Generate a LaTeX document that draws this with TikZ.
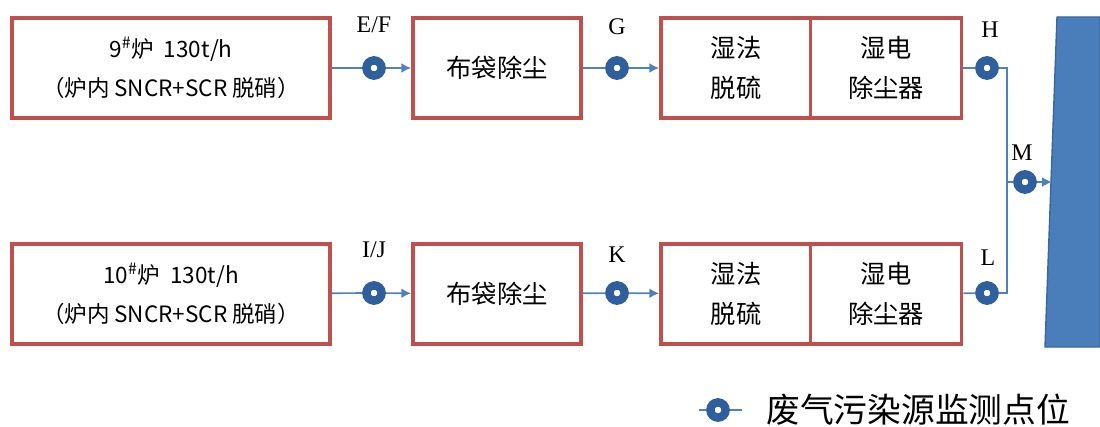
\documentclass[tikz,border=0pt]{standalone}
\usepackage{fontspec}
\setmainfont{Liberation Serif}
\newfontfamily\cjk{Noto Sans CJK SC}
\usepackage{tikz}
\usetikzlibrary{arrows.meta}
\usetikzlibrary{positioning}
\definecolor{boxred}{HTML}{C0504D}
\definecolor{mondark}{HTML}{2F5F9C}
\definecolor{pipeblue}{HTML}{4F81BD}
\definecolor{stackblue}{HTML}{4A7EBB}
\definecolor{stackedge}{HTML}{3A679E}
\tikzset{>=latex}
\tikzstyle{box} = [rectangle, draw=boxred, line width=2.6pt, fill=white, align=center, minimum height=2.5cm, inner sep=0, font=\cjk\fontsize{18}{28}\selectfont]
\tikzstyle{mon} = [circle, draw=mondark, line width=6pt, fill=white, minimum size=0.38cm, inner sep=0]
\tikzstyle{pipe} = [draw=pipeblue, line width=1.2pt]
\tikzstyle{flow} = [pipe, -{Latex[length=7pt, width=7pt]}]
\tikzstyle{tag} = [draw=none, inner sep=0, font=\fontsize{17}{17}\selectfont]

\begin{document}
\begin{tikzpicture}[x=0.025cm, y=-0.025cm]
\useasboundingbox (0,0) rectangle (1100,427);
% stack
\filldraw [fill=stackblue, draw=stackedge, line width=1pt] (1057,17) -- (1100,17) -- (1100,347) -- (1045,347) -- cycle;
\coordinate (stack) at (1052,182);
% line 9
\node [box, minimum width=7.95cm, font=\cjk\fontsize{16}{28}\selectfont] (boiler9) at (171,68) {9\textsuperscript{\#}炉\ \ 130t/h\\（炉内 SNCR+SCR 脱硝）};
\node [box, minimum width=4.2cm] (bag9) at (497,68) {布袋除尘};
\node [box, minimum width=3.75cm] (fgd9) at (736,68) {湿法\\脱硫};
\node [box, minimum width=3.78cm] (esp9) at (886,68) {湿电\\除尘器};
\node [mon] (ef) at (374,68) {};
\node [mon] (g) at (617,68) {};
\node [mon] (h) at (987,68) {};
\node [tag] at (374,25) {E/F};
\node [tag] at (617,27) {G};
\node [tag] at (990,30) {H};
% line 10
\node [box, minimum width=7.95cm, font=\cjk\fontsize{16}{28}\selectfont] (boiler10) at (171,294) {10\textsuperscript{\#}炉\ \ 130t/h\\（炉内 SNCR+SCR 脱硝）};
\node [box, minimum width=4.2cm] (bag10) at (497,294) {布袋除尘};
\node [box, minimum width=3.75cm] (fgd10) at (736,294) {湿法\\脱硫};
\node [box, minimum width=3.78cm] (esp10) at (886,294) {湿电\\除尘器};
\node [mon] (ij) at (374,293) {};
\node [mon] (k) at (617,293) {};
\node [mon] (l) at (987,293) {};
\node [tag] at (374,250) {I/J};
\node [tag] at (617,255) {K};
\node [tag] at (988,258) {L};
% merge
\coordinate (jh) at (1007,68);
\coordinate (jl) at (1007,293);
\coordinate (jm) at (1007,182);
\node [mon] (m) at (1025,182) {};
\node [tag] at (1022,153) {M};
\draw [pipe] (boiler9) -- (ef);
\draw [flow] (ef) -- (bag9);
\draw [pipe] (bag9) -- (g);
\draw [flow] (g) -- (fgd9);
\draw [pipe] (esp9) -- (h);
\draw [pipe] (boiler10) -- (ij);
\draw [flow] (ij) -- (bag10);
\draw [pipe] (bag10) -- (k);
\draw [flow] (k) -- (fgd10);
\draw [pipe] (esp10) -- (l);
\draw [pipe] (h) -- (jh) -- (jl) -- (l);
\draw [pipe] (jm) -- (m);
\draw [flow] (m) -- (stack);
% legend
\coordinate (lga) at (699,410);
\coordinate (lgb) at (742,410);
\node [mon] (lg) at (718,410) {};
\draw [pipe] (lga) -- (lg) -- (lgb);
\node [draw=none, anchor=west, inner sep=0, font=\cjk\fontsize{24}{24}\selectfont] (lgtext) at (766,410) {废气污染源监测点位};
\end{tikzpicture}
\end{document}
